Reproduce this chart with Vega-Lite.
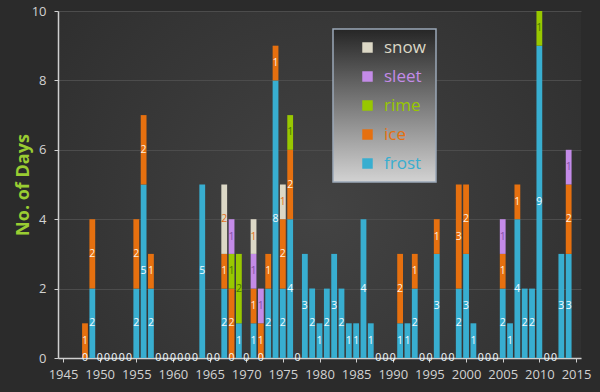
{
  "$schema": "https://vega.github.io/schema/vega-lite/v6.json",
  "width": 523,
  "height": 347,
  "autosize": {"type": "none"},
  "padding": {"left": 58, "top": 11, "right": 19, "bottom": 34},
  "background": "#2b2b2b",
  "config": {
    "font": "Open Sans",
    "axisX": {
      "format": "d", "grid": false, "labelOverlap": false, "labelBound": false, "labelFlush": false,
      "domainColor": "#cfcfcf", "domainWidth": 1.5,
      "tickColor": "#cfcfcf", "tickSize": 4,
      "labelColor": "#d2d2d2", "labelFontSize": 13, "labelPadding": 6,
      "labelFont": "Open Sans"
    },
    "axisY": {
      "grid": true, "gridColor": "#4c4c4c", "gridWidth": 1,
      "domainColor": "#cfcfcf", "domainWidth": 1.5,
      "tickColor": "#cfcfcf", "tickSize": 4,
      "labelColor": "#d2d2d2", "labelFontSize": 13, "labelPadding": 8,
      "labelFont": "Open Sans",
      "titleColor": "#9acd32", "titleFontSize": 18, "titleFontWeight": "bold",
      "titleFont": "Open Sans",
      "titleX": -30, "titleBaseline": "alphabetic"
    },
    "view": {
      "stroke": null,
      "fill": {"gradient": "radial", "x1": 0.5, "y1": 0.55, "r1": 0, "x2": 0.5, "y2": 0.55, "r2": 0.75,
        "stops": [{"offset": 0, "color": "#434343"}, {"offset": 1, "color": "#2b2b2b"}]}
    }
  },
  "data": {"values": [
    {"year": 1948, "type": "frost", "days": 0}, {"year": 1948, "type": "ice", "days": 1},
    {"year": 1949, "type": "frost", "days": 2}, {"year": 1949, "type": "ice", "days": 2},
    {"year": 1950, "type": "frost", "days": 0},
    {"year": 1951, "type": "frost", "days": 0},
    {"year": 1952, "type": "frost", "days": 0},
    {"year": 1953, "type": "frost", "days": 0},
    {"year": 1954, "type": "frost", "days": 0},
    {"year": 1955, "type": "frost", "days": 2}, {"year": 1955, "type": "ice", "days": 2},
    {"year": 1956, "type": "frost", "days": 5}, {"year": 1956, "type": "ice", "days": 2},
    {"year": 1957, "type": "frost", "days": 2}, {"year": 1957, "type": "ice", "days": 1},
    {"year": 1958, "type": "frost", "days": 0},
    {"year": 1959, "type": "frost", "days": 0},
    {"year": 1960, "type": "frost", "days": 0},
    {"year": 1961, "type": "frost", "days": 0},
    {"year": 1962, "type": "frost", "days": 0},
    {"year": 1963, "type": "frost", "days": 0},
    {"year": 1964, "type": "frost", "days": 5},
    {"year": 1965, "type": "frost", "days": 0},
    {"year": 1966, "type": "frost", "days": 0},
    {"year": 1967, "type": "frost", "days": 2}, {"year": 1967, "type": "ice", "days": 1}, {"year": 1967, "type": "snow", "days": 2},
    {"year": 1968, "type": "frost", "days": 0}, {"year": 1968, "type": "ice", "days": 2}, {"year": 1968, "type": "rime", "days": 1}, {"year": 1968, "type": "sleet", "days": 1},
    {"year": 1969, "type": "frost", "days": 1}, {"year": 1969, "type": "rime", "days": 2},
    {"year": 1970, "type": "frost", "days": 0},
    {"year": 1971, "type": "frost", "days": 1}, {"year": 1971, "type": "ice", "days": 1}, {"year": 1971, "type": "sleet", "days": 1}, {"year": 1971, "type": "snow", "days": 1},
    {"year": 1972, "type": "frost", "days": 0}, {"year": 1972, "type": "ice", "days": 1}, {"year": 1972, "type": "sleet", "days": 1},
    {"year": 1973, "type": "frost", "days": 2}, {"year": 1973, "type": "ice", "days": 1},
    {"year": 1974, "type": "frost", "days": 8}, {"year": 1974, "type": "ice", "days": 1},
    {"year": 1975, "type": "frost", "days": 2}, {"year": 1975, "type": "ice", "days": 2}, {"year": 1975, "type": "snow", "days": 1},
    {"year": 1976, "type": "frost", "days": 4}, {"year": 1976, "type": "ice", "days": 2}, {"year": 1976, "type": "rime", "days": 1},
    {"year": 1977, "type": "frost", "days": 0},
    {"year": 1978, "type": "frost", "days": 3},
    {"year": 1979, "type": "frost", "days": 2},
    {"year": 1980, "type": "frost", "days": 1},
    {"year": 1981, "type": "frost", "days": 2},
    {"year": 1982, "type": "frost", "days": 3},
    {"year": 1983, "type": "frost", "days": 2},
    {"year": 1984, "type": "frost", "days": 1},
    {"year": 1985, "type": "frost", "days": 1},
    {"year": 1986, "type": "frost", "days": 4},
    {"year": 1987, "type": "frost", "days": 1},
    {"year": 1988, "type": "frost", "days": 0},
    {"year": 1989, "type": "frost", "days": 0},
    {"year": 1990, "type": "frost", "days": 0},
    {"year": 1991, "type": "frost", "days": 1}, {"year": 1991, "type": "ice", "days": 2},
    {"year": 1992, "type": "frost", "days": 1},
    {"year": 1993, "type": "frost", "days": 2}, {"year": 1993, "type": "ice", "days": 1},
    {"year": 1994, "type": "frost", "days": 0},
    {"year": 1995, "type": "frost", "days": 0},
    {"year": 1996, "type": "frost", "days": 3}, {"year": 1996, "type": "ice", "days": 1},
    {"year": 1997, "type": "frost", "days": 0},
    {"year": 1998, "type": "frost", "days": 0},
    {"year": 1999, "type": "frost", "days": 2}, {"year": 1999, "type": "ice", "days": 3},
    {"year": 2000, "type": "frost", "days": 3}, {"year": 2000, "type": "ice", "days": 2},
    {"year": 2001, "type": "frost", "days": 1},
    {"year": 2002, "type": "frost", "days": 0},
    {"year": 2003, "type": "frost", "days": 0},
    {"year": 2004, "type": "frost", "days": 0},
    {"year": 2005, "type": "frost", "days": 2}, {"year": 2005, "type": "ice", "days": 1}, {"year": 2005, "type": "sleet", "days": 1},
    {"year": 2006, "type": "frost", "days": 1},
    {"year": 2007, "type": "frost", "days": 4}, {"year": 2007, "type": "ice", "days": 1},
    {"year": 2008, "type": "frost", "days": 2},
    {"year": 2009, "type": "frost", "days": 2},
    {"year": 2010, "type": "frost", "days": 9}, {"year": 2010, "type": "rime", "days": 1},
    {"year": 2011, "type": "frost", "days": 0},
    {"year": 2012, "type": "frost", "days": 0},
    {"year": 2013, "type": "frost", "days": 3},
    {"year": 2014, "type": "frost", "days": 3}, {"year": 2014, "type": "ice", "days": 2}, {"year": 2014, "type": "sleet", "days": 1}
  ]},
  "transform": [
    {"stack": "days", "groupby": ["year"], "sort": [{"field": "type", "order": "ascending"}], "as": ["d0", "d1"]},
    {"calculate": "(datum.d0 + datum.d1) / 2", "as": "mid"}
  ],
  "layer": [
    {
      "mark": {"type": "bar", "size": 5.8},
      "encoding": {
        "x": {
          "field": "year", "type": "quantitative",
          "scale": {"domain": [1945, 2015], "nice": false, "zero": false},
          "axis": {
            "title": null,
            "values": [1945, 1950, 1955, 1960, 1965, 1970, 1975, 1980, 1985, 1990, 1995, 2000, 2005, 2010, 2015]
          }
        },
        "y": {
          "field": "d0", "type": "quantitative",
          "scale": {"domain": [0, 10], "nice": false},
          "axis": {"title": "No. of Days", "values": [0, 2, 4, 6, 8, 10]}
        },
        "y2": {"field": "d1"},
        "color": {
          "field": "type", "type": "nominal",
          "sort": ["snow", "sleet", "rime", "ice", "frost"],
          "scale": {
            "domain": ["snow", "sleet", "rime", "ice", "frost"],
            "range": ["#dcd8c6", "#c48be8", "#98c800", "#e6700f", "#38aed0"]
          },
          "legend": {
            "title": null,
            "orient": "none", "legendX": 275, "legendY": 18,
            "symbolType": "square", "symbolSize": 110, "symbolStrokeWidth": 0,
            "labelFontSize": 17, "labelFont": "Open Sans",
            "padding": 10, "rowPadding": 11, "symbolOffset": 16, "labelOffset": 8,
            "strokeColor": "#9aa8b8",
            "encode": {
              "legend": {"update": {
                "strokeWidth": {"value": 1.5},
                "fill": {"value": {"gradient": "linear", "x1": 0, "y1": 0, "x2": 0, "y2": 1,
                "stops": [{"offset": 0, "color": "#262626"}, {"offset": 1, "color": "#d2d2d2"}]}}}},
              "labels": {"update": {"fill": {"signal": "scale('color', datum.value)"}}}
            }
          }
        }
      }
    },
    {
      "mark": {"type": "text", "fontSize": 10.5, "baseline": "middle", "align": "center", "font": "Open Sans"},
      "encoding": {
        "x": {"field": "year", "type": "quantitative",
          "axis": {"title": null, "values": [1945, 1950, 1955, 1960, 1965, 1970, 1975, 1980, 1985, 1990, 1995, 2000, 2005, 2010, 2015]}},
        "y": {"field": "mid", "type": "quantitative",
          "axis": {"title": "No. of Days", "values": [0, 2, 4, 6, 8, 10]}},
        "text": {"field": "days", "type": "quantitative"},
        "color": {
          "condition": [
            {"test": "datum.type === 'snow'", "value": "#e2701c"},
            {"test": "datum.type === 'sleet'", "value": "#8452a6"},
            {"test": "datum.type === 'rime'", "value": "#4b7800"},
            {"test": "datum.type === 'ice'", "value": "#ffeedd"}
          ],
          "value": "#f2fbff"
        }
      }
    }
  ]
}
